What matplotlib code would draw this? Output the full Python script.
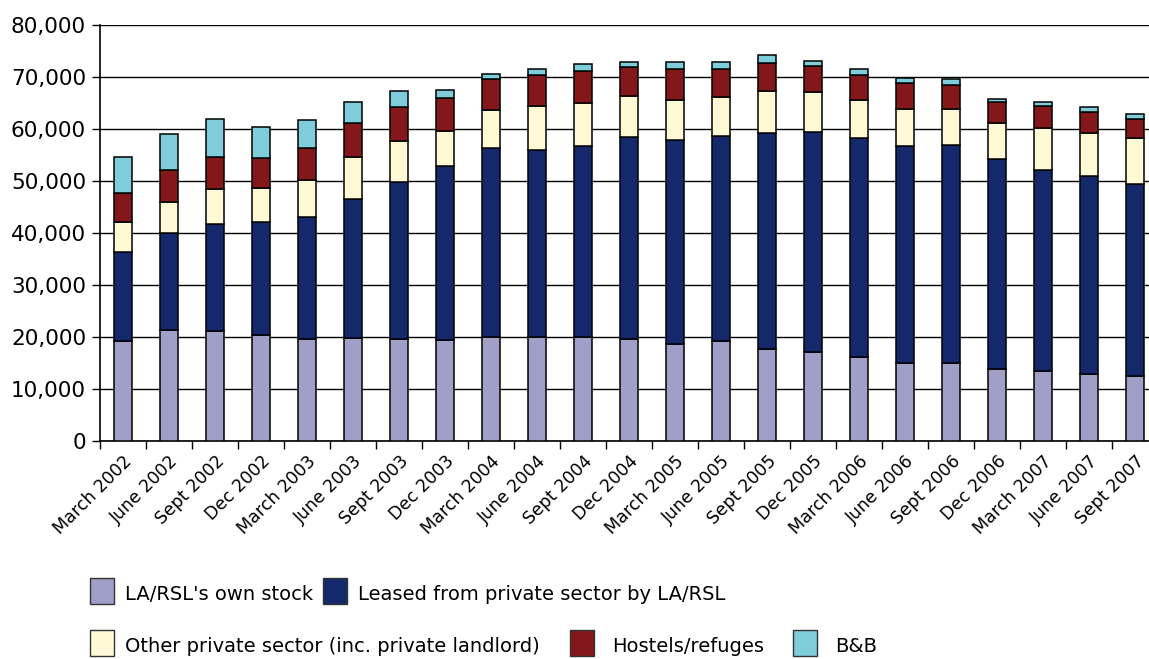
import matplotlib.pyplot as plt
from matplotlib.patches import Rectangle
import numpy as np

# quarters shown on the x axis
quarters = ['March 2002', 'June 2002', 'Sept 2002', 'Dec 2002',
            'March 2003', 'June 2003', 'Sept 2003', 'Dec 2003',
            'March 2004', 'June 2004', 'Sept 2004', 'Dec 2004',
            'March 2005', 'June 2005', 'Sept 2005', 'Dec 2005',
            'March 2006', 'June 2006', 'Sept 2006', 'Dec 2006',
            'March 2007', 'June 2007', 'Sept 2007']

# values per category (households)
own_stock = [19200, 21300, 21100, 20400, 19600, 19900, 19700, 19400,
             20100, 20100, 20100, 19600, 18700, 19200, 17700, 17200,
             16100, 15000, 15000, 13900, 13400, 12900, 12500]
leased = [17100, 18700, 20700, 21700, 23400, 26600, 30100, 33600,
          36300, 35900, 36600, 38900, 39300, 39500, 41600, 42300,
          42100, 41800, 42000, 40300, 38800, 38100, 37000]
other_private = [5900, 6000, 6600, 6600, 7200, 8200, 7900, 6700,
                 7200, 8400, 8400, 7900, 7600, 7500, 8100, 7700,
                 7400, 7100, 6900, 6900, 8000, 8300, 8700]
hostels = [5500, 6200, 6200, 5700, 6200, 6500, 6500, 6200,
           6100, 6100, 6000, 5600, 6000, 5400, 5400, 4900,
           4900, 4900, 4500, 4100, 4200, 3900, 3700]
bnb = [7000, 6800, 7300, 6000, 5300, 4000, 3200, 1700,
       900, 1100, 1500, 900, 1300, 1300, 1500, 1000,
       1100, 1100, 1300, 600, 800, 1000, 1000]

series = [own_stock, leased, other_private, hostels, bnb]
names = ["LA/RSL's own stock", "Leased from private sector by LA/RSL",
         "Other private sector (inc. private landlord)", "Hostels/refuges", "B&B"]
colors = ['#A09FC8', '#13296B', '#FFF9D6', '#84171A', '#7FCCDA']

fig = plt.figure(figsize=(11.49, 6.59), dpi=100)
ax = fig.add_axes([0.087, 0.3308, 0.913, 0.631])

x = np.arange(len(quarters))
bottom = np.zeros(len(quarters))
for vals, c in zip(series, colors):
    ax.bar(x, vals, width=0.4, bottom=bottom, color=c, edgecolor='black',
           linewidth=1.1, zorder=3)
    bottom += np.array(vals)

ax.set_ylim(0, 80000)
ax.set_xlim(-0.5, 22.3)
ax.set_yticks(range(0, 80001, 10000))
ax.set_yticklabels([f'{v:,}' for v in range(0, 80001, 10000)], fontsize=15.5)
ax.yaxis.grid(True, color='black', linewidth=1, zorder=0)
ax.set_axisbelow(True)

ax.set_xticks(x)
ax.set_xticklabels(quarters, rotation=45, ha='right', rotation_mode='anchor',
                   fontsize=12.5)
ax.tick_params(axis='x', which='major', length=0, pad=8)
ax.set_xticks(np.arange(-0.5, 22.5, 1), minor=True)
ax.tick_params(axis='x', which='minor', length=6, width=1)
ax.tick_params(axis='y', length=6, width=1, pad=4)

for s in ['top', 'right']:
    ax.spines[s].set_visible(False)
ax.spines['left'].set_linewidth(1.2)
ax.spines['bottom'].set_linewidth(1.2)

# legend drawn in figure pixels
W, H = 1149, 659
rows = [(0, 90, 578, 125), (1, 323, 578, 358),
        (2, 90, 630, 125), (3, 570, 630, 612), (4, 793, 630, 835)]
for i, px, py, tx in rows:
    fig.patches.append(Rectangle((px / W, 1 - (py + 26) / H), 24 / W, 26 / H,
                                 transform=fig.transFigure, facecolor=colors[i],
                                 edgecolor='#333333', linewidth=1))
    fig.text(tx / W, 1 - (py + 17) / H, names[i], fontsize=14, va='center')

fig.savefig('out.png', dpi=100)
